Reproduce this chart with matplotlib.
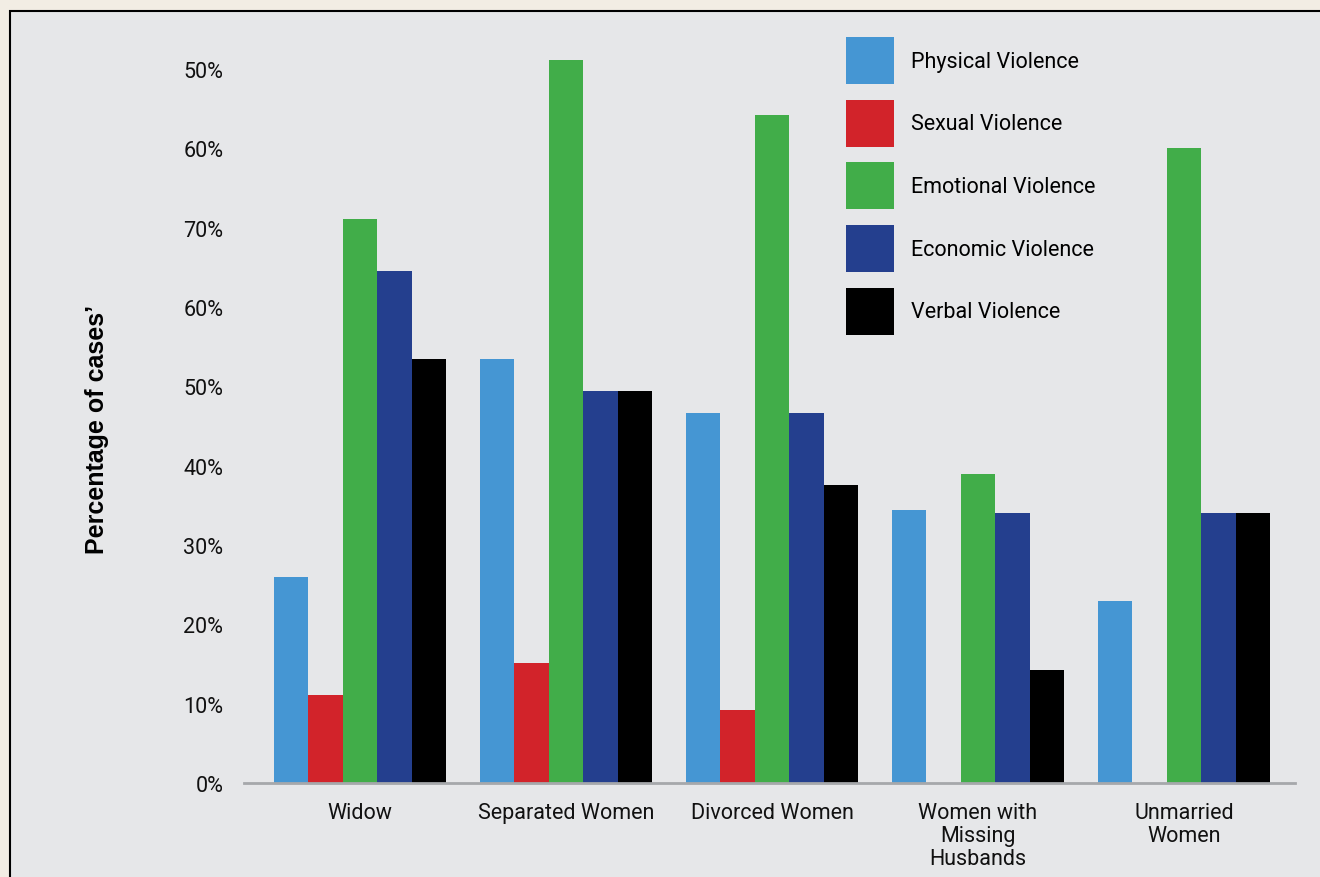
import numpy as np
import matplotlib
matplotlib.use("Agg")
import matplotlib.pyplot as plt
from matplotlib.patches import Rectangle, Patch

groups = ["Widow", "Separated Women", "Divorced Women",
          "Women with\nMissing\nHusbands", "Unmarried\nWomen"]
series = ["Physical Violence", "Sexual Violence", "Emotional Violence",
          "Economic Violence", "Verbal Violence"]
physical = [26, 53.5, 46.7, 34.4, 23]
sexual = [11.1, 15.1, 9.2, 0, 0]
emotional = [71.1, 91.2, 84.2, 39, 80]
economic = [64.6, 49.4, 46.7, 34, 34]
verbal = [53.5, 49.4, 37.6, 14.2, 34]
ytick_vals = [0, 10, 20, 30, 40, 50, 60, 70, 80, 90]
ytick_labels = ["0%", "10%", "20%", "30%", "40%", "50%", "60%", "70%", "60%", "50%"]

colors = ["#4596D3", "#D2232A", "#41AD49", "#243F8E", "#000000"]
values = [physical, sexual, emotional, economic, verbal]

plt.rcParams['font.family'] = ['Roboto', 'DejaVu Sans']

fig = plt.figure(figsize=(13.2, 8.78), dpi=100)
fig.patch.set_facecolor("#F2EDE4")
# grey panel with a black border running off the right/bottom edges
fig.patches.append(Rectangle((10 / 1320, -0.05), 1.1, (878 - 12) / 878 + 0.05,
                             transform=fig.transFigure, facecolor="#E6E7E9",
                             edgecolor="#000000", linewidth=1.5, zorder=-10))

ax = fig.add_axes([244 / 1320, 94 / 878, (1295 - 244) / 1320, (784 - 40) / 878])
ax.set_facecolor("none")

x = np.arange(len(groups))
w = 0.1675
for i, (name, vals) in enumerate(zip(series, values)):
    ax.bar(x + (i - 2) * w, vals, width=w, color=colors[i], label=name,
           linewidth=0)

ax.set_xlim(-0.563, 4.539)
ax.set_ylim(0, 93.8)
ax.set_yticks(ytick_vals)
ax.set_yticklabels(ytick_labels, fontsize=15.5, color="#111111")
ax.set_xticks(x)
ax.set_xticklabels(groups, fontsize=15.5, color="#111111", linespacing=1.1,
                   va="top")
ax.tick_params(axis="both", length=0)
ax.tick_params(axis="y", pad=15)
ax.tick_params(axis="x", pad=14)

for s in ["top", "right", "left"]:
    ax.spines[s].set_visible(False)
ax.spines["bottom"].set_color("#A6A8AB")
ax.spines["bottom"].set_linewidth(2)

fig.text(97 / 1320, 1 - 429 / 878, "Percentage of cases\u2019", rotation=90,
         ha="center", va="center", fontsize=18, fontweight="bold",
         family="Liberation Sans")

handles = [Patch(facecolor=c, edgecolor="none") for c in colors]
fs = 15.5
px = fs * 100 / 72
ax.legend(handles, series, loc="upper left",
          bbox_to_anchor=(846 / 1320, 1 - 38 / 878),
          bbox_transform=fig.transFigure, frameon=False, fontsize=fs,
          handlelength=48 / px, handleheight=48 / px / 0.75,
          handletextpad=17 / px, labelspacing=15.8 / px,
          borderpad=0, borderaxespad=0)

fig.savefig("out.png", dpi=100, facecolor=fig.get_facecolor())
